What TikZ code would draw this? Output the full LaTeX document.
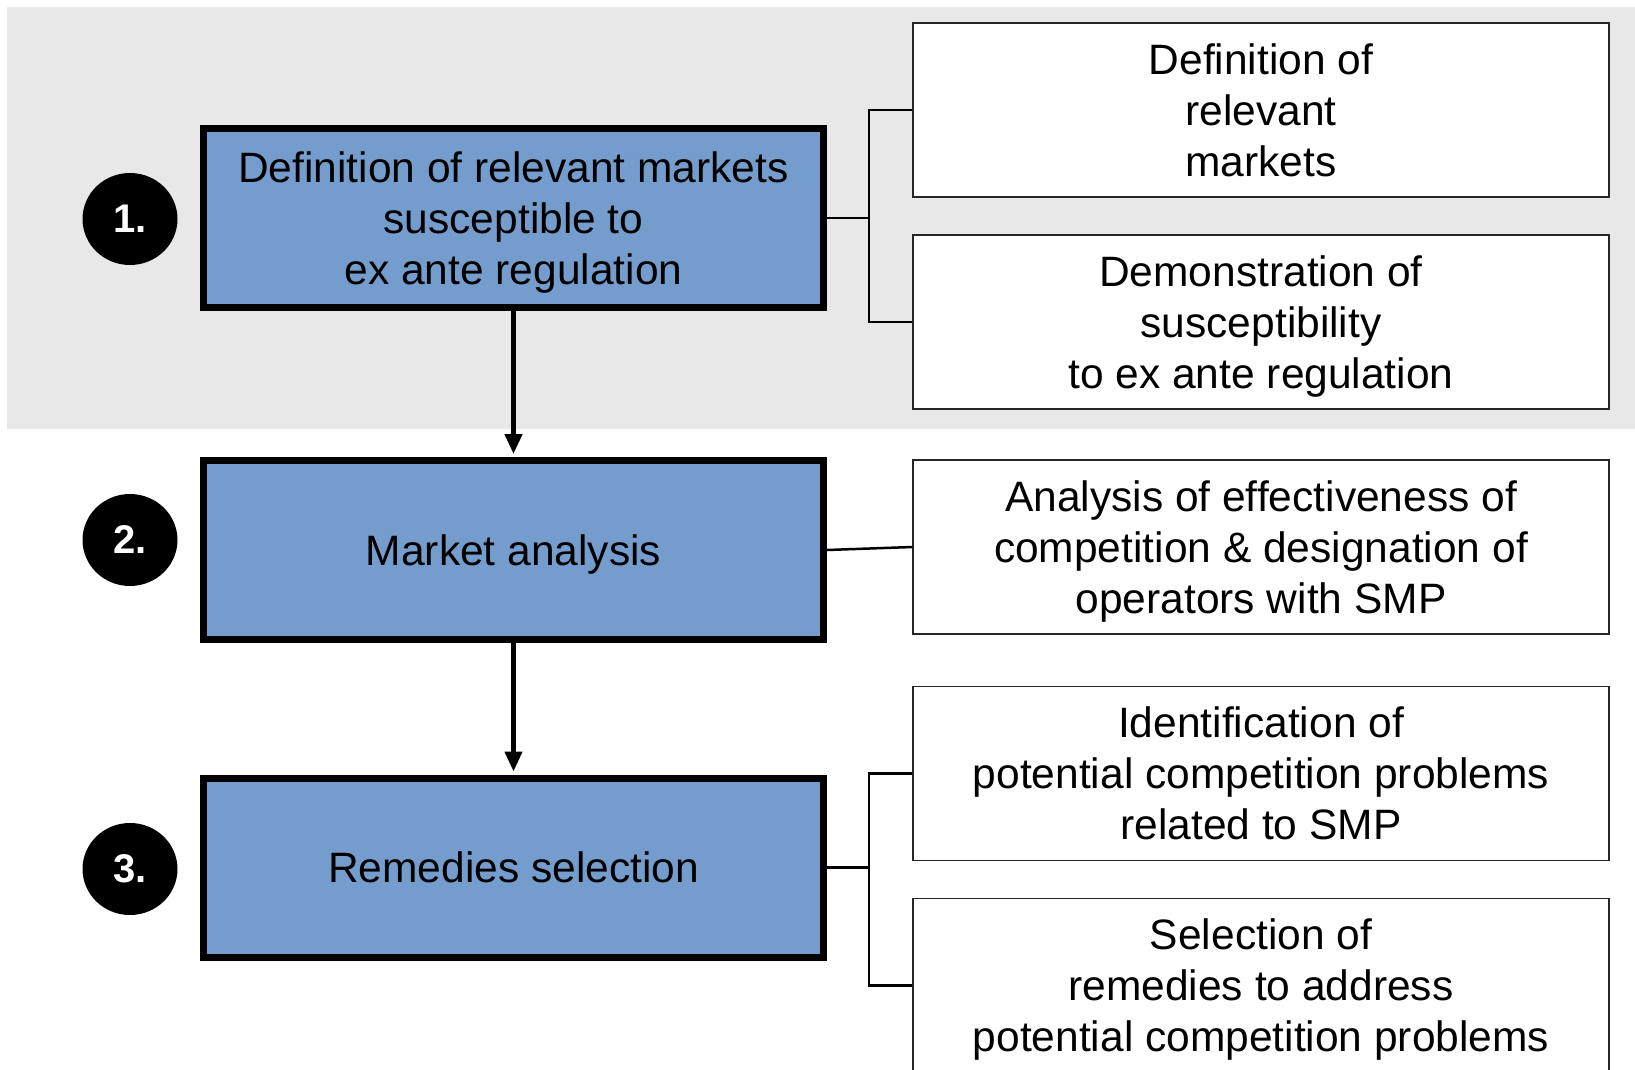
\documentclass[tikz,border=0pt]{standalone}
\usepackage{fontspec}
\setmainfont{Liberation Sans}
\usetikzlibrary{arrows.meta,shapes.geometric}
\definecolor{bluefill}{RGB}{116,157,206}
\definecolor{bggray}{RGB}{232,232,232}
\begin{document}
\begin{tikzpicture}[x=1pt,y=-1pt,
 mainbox/.style={draw=black, line width=7pt, fill=bluefill, minimum width=620pt, minimum height=179pt, inner sep=0pt, align=center, text depth=0pt, font=\fontsize{42.5}{51}\selectfont},
 subbox/.style={draw=black!85, line width=1.3pt, fill=white, minimum width=696pt, minimum height=174pt, inner sep=0pt, align=center, text depth=0pt, font=\fontsize{42.5}{51}\selectfont},
 num/.style={ellipse, fill=black, minimum width=95pt, minimum height=92pt, inner sep=0pt, text=white, font=\fontsize{40}{48}\selectfont\bfseries},
 conn/.style={line width=2.5pt},
 flow/.style={line width=4.5pt, -{Triangle[length=20pt,width=17pt]}, shorten >=3pt}]
\useasboundingbox (0,0) rectangle (1635,1070);
\clip (0,0) rectangle (1635,1070);
\fill[bggray] (7,7) rectangle (1635,429);

\node[mainbox] (b1) at (513.5,218) {Definition of relevant markets\\susceptible to\\ex ante regulation};
\node[mainbox] (b2) at (513.5,550) {Market analysis};
\node[mainbox] (b3) at (513.5,867.5) {Remedies selection};

\node[num] (n1) at (130,219) {1.};
\node[num] (n2) at (130,540) {2.};
\node[num] (n3) at (130,869) {3.};

\node[subbox] (r1) at (1261,110) {Definition of\\relevant\\markets};
\node[subbox] (r2) at (1261,322) {Demonstration of\\susceptibility\\to ex ante regulation};
\node[subbox] (r3) at (1261,547) {Analysis of effectiveness of\\competition \& designation of\\operators with SMP};
\node[subbox] (r4) at (1261,773.5) {Identification of\\potential competition problems\\related to SMP};
\node[subbox] (r5) at (1261,985.5) {Selection of\\remedies to address\\potential competition problems};

\draw[conn] (b1.east) -- ++(42,0) coordinate (j1) |- (r1.west);
\draw[conn] (j1) |- (r2.west);
\draw[conn] (b2.east) -- (r3.west);
\draw[conn] (b3.east) -- ++(42,0) coordinate (j3) |- (r4.west);
\draw[conn] (j3) |- (r5.west);

\draw[flow] (b1.south) -- (b2.north);
\draw[flow] (b2.south) -- (b3.north);
\end{tikzpicture}
\end{document}
